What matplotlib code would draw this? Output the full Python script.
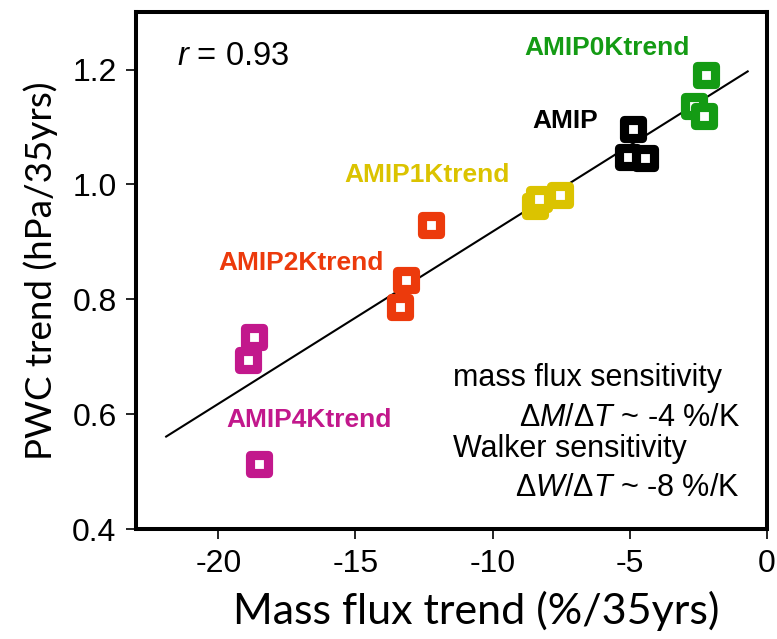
import numpy as np
import matplotlib
matplotlib.use("Agg")
import matplotlib.pyplot as plt
from matplotlib.markers import MarkerStyle

plt.rcParams['font.family'] = ['Liberation Sans', 'DejaVu Sans']
plt.rcParams['mathtext.fontset'] = 'custom'
plt.rcParams['mathtext.rm'] = 'Liberation Sans'
plt.rcParams['mathtext.it'] = 'Liberation Sans:italic'

# experiments and their colours
experiments = ['AMIP0Ktrend', 'AMIP', 'AMIP1Ktrend', 'AMIP2Ktrend', 'AMIP4Ktrend']
colors = ['#149b14', '#000000', '#dbc300', '#ec3a0c', '#c2188c']

# mass flux trend (%/35yrs), three members each
mass_flux = [
    [-2.23, -2.65, -2.30],
    [-4.88, -5.08, -4.43],
    [-8.44, -8.30, -7.55],
    [-12.24, -13.15, -13.36],
    [-18.69, -18.93, -18.50],
]
# PWC trend (hPa/35yrs)
pwc = [
    [1.191, 1.137, 1.120],
    [1.097, 1.048, 1.046],
    [0.962, 0.975, 0.981],
    [0.929, 0.833, 0.787],
    [0.734, 0.694, 0.513],
]
# label positions (data coords)
label_x = [-5.84, -7.37, -12.4, -16.99, -16.68]
label_y = [1.237, 1.110, 1.016, 0.863, 0.590]

fit_range = [-21.9, -0.7]

fig = plt.figure(figsize=(7.77, 6.39), dpi=100)
ax = fig.add_axes([0.175, 0.172, 0.812, 0.809])

# regression line
all_x = np.concatenate(mass_flux)
all_y = np.concatenate(pwc)
slope, icpt = np.polyfit(all_x, all_y, 1)
lx = np.array(fit_range)
ax.plot(lx, slope * lx + icpt, color='black', lw=1.5, zorder=2)

sq = MarkerStyle('s', joinstyle='round')
for name, c, xs, ys, tx, ty in zip(experiments, colors, mass_flux, pwc, label_x, label_y):
    for x, y in zip(xs, ys):
        ax.plot(x, y, marker=sq, ms=13.2, mew=6.6, mec=c, mfc='white',
                ls='none', zorder=3)
    ax.text(tx, ty, name, color=c, fontsize=19, fontweight='bold',
            ha='center', va='center')

ax.text(-21.5, 1.223, r'$r$ = 0.93', fontsize=23.5, ha='left', va='center')

ax.text(-11.46, 0.663, 'mass flux sensitivity', fontsize=22, ha='left', va='center')
ax.text(-0.99, 0.593, r'$\Delta M/\Delta T$ ~ -4 %/K', fontsize=22, ha='right', va='center')
ax.text(-11.46, 0.539, 'Walker sensitivity', fontsize=22, ha='left', va='center')
ax.text(-0.99, 0.471, r'$\Delta W/\Delta T$ ~ -8 %/K', fontsize=22, ha='right', va='center')

ax.set_xlim(-23, 0)
ax.set_ylim(0.4, 1.3)
ax.set_xticks([-20, -15, -10, -5, 0])
ax.set_xticklabels(['-20', '-15', '-10', '-5', '0'])
ax.set_yticks([0.4, 0.6, 0.8, 1.0, 1.2])
ax.set_yticklabels(['0.4', '0.6', '0.8', '1.0', '1.2'])
ax.tick_params(labelsize=23, length=7, width=1.2, pad=7)

for s in ax.spines.values():
    s.set_linewidth(2.9)

ax.set_xlabel('Mass flux trend (%/35yrs)', fontsize=31, family='Lato')
ax.xaxis.set_label_coords(0.54, -0.12)
ax.set_ylabel('PWC trend (hPa/35yrs)', fontsize=26.5, family='Lato', labelpad=10)

fig.savefig('out.png', dpi=100)
